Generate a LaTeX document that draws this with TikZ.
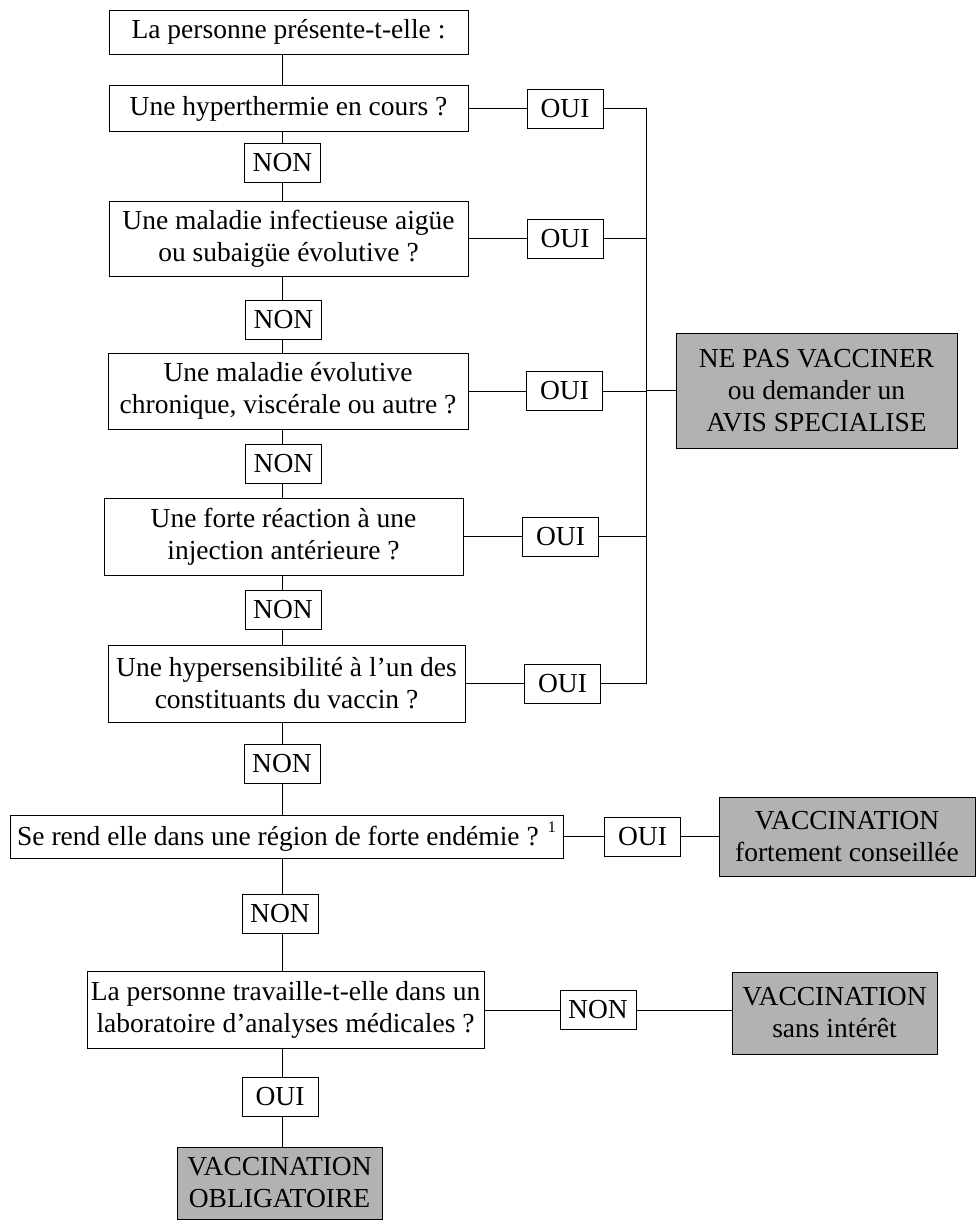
\documentclass[tikz,border=0pt]{standalone}
\usepackage{fontspec}
\setmainfont{Liberation Serif}
\begin{document}
\begin{tikzpicture}[x=1pt,y=-1pt,
  every node/.style={font=\fontsize{27.5}{32}\selectfont, inner sep=0pt, align=center},
  qbox/.style={draw, line width=0.9pt, fill=white},
  tag/.style={draw, line width=0.9pt, minimum width=76pt, minimum height=39pt},
  result/.style={draw, line width=0.9pt, fill=black!30},
  conn/.style={line width=0.9pt}]
\useasboundingbox (0,0) rectangle (977,1220);
\coordinate (sx) at (282,0);
\coordinate (rs) at (646,0);
% main questions
\node[qbox, minimum width=359pt, minimum height=44pt] (B0) at (288.5,32) {La personne présente-t-elle :};
\node[qbox, minimum width=359pt, minimum height=46pt] (B1) at (288.5,108.5) {Une hyperthermie en cours ?};
\node[tag] (N1) at (282.5,162.5) {NON};
\node[qbox, minimum width=359pt, minimum height=75pt] (B2) at (288.5,238.5) {Une maladie infectieuse aigüe\\ou subaigüe évolutive ?};
\node[tag] (N2) at (283.5,320) {NON};
\node[qbox, minimum width=360pt, minimum height=76pt] (B3) at (288,391) {Une maladie évolutive\\chronique, viscérale ou autre ?};
\node[tag] (N3) at (283.5,464) {NON};
\node[qbox, minimum width=359pt, minimum height=77pt] (B4) at (283.5,536.5) {Une forte réaction à une\\injection antérieure ?};
\node[tag] (N4) at (283,610) {NON};
\node[qbox, minimum width=357pt, minimum height=77pt] (B5) at (286.5,683.5) {Une hypersensibilité à l’un des\\constituants du vaccin ?};
\node[tag] (N5) at (282,763.5) {NON};
\node[qbox, minimum width=553pt, minimum height=43pt] (B6) at (286.5,836.5) {Se rend elle dans une région de forte endémie ? \raisebox{1.0ex}{\fontsize{16}{16}\selectfont 1}};
\node[tag] (N6) at (280,913.5) {NON};
\node[qbox, minimum width=397pt, minimum height=77pt] (B7) at (285.5,1010) {La personne travaille-t-elle dans un\\laboratoire d’analyses médicales ?};
\node[tag] (O7) at (280,1097) {OUI};
\node[result, minimum width=205pt, minimum height=72pt] (VOB) at (279.5,1183) {VACCINATION\\OBLIGATOIRE};
% OUI branches
\node[tag] (O1) at (565,108.5) {OUI};
\node[tag] (O2) at (565,238.5) {OUI};
\node[tag] (O3) at (564.5,391) {OUI};
\node[tag] (O4) at (560.5,536.5) {OUI};
\node[tag] (O5) at (562.5,683.5) {OUI};
\node[result, minimum width=281pt, minimum height=115pt] (NPV) at (816.5,390.5) {NE PAS VACCINER\\ou demander un\\AVIS SPECIALISE};
\node[tag] (O6) at (642.5,836.5) {OUI};
\node[result, minimum width=256pt, minimum height=79pt] (VFC) at (847,836.5) {VACCINATION\\fortement conseillée};
\node[tag] (N7) at (598,1010) {NON};
\node[result, minimum width=205pt, minimum height=82pt] (VSI) at (834.5,1013) {VACCINATION\\sans intérêt};
% spine
\draw[conn] (B0.south -| sx) -- (B1.north -| sx);
\draw[conn] (B1.south -| sx) -- (N1.north -| sx);
\draw[conn] (N1.south -| sx) -- (B2.north -| sx);
\draw[conn] (B2.south -| sx) -- (N2.north -| sx);
\draw[conn] (N2.south -| sx) -- (B3.north -| sx);
\draw[conn] (B3.south -| sx) -- (N3.north -| sx);
\draw[conn] (N3.south -| sx) -- (B4.north -| sx);
\draw[conn] (B4.south -| sx) -- (N4.north -| sx);
\draw[conn] (N4.south -| sx) -- (B5.north -| sx);
\draw[conn] (B5.south -| sx) -- (N5.north -| sx);
\draw[conn] (N5.south -| sx) -- (B6.north -| sx);
\draw[conn] (B6.south -| sx) -- (N6.north -| sx);
\draw[conn] (N6.south -| sx) -- (B7.north -| sx);
\draw[conn] (B7.south -| sx) -- (O7.north -| sx);
\draw[conn] (O7.south -| sx) -- (VOB.north -| sx);
% OUI connectors
\draw[conn] (B1.east) -- (O1.west);
\draw[conn] (B2.east) -- (O2.west);
\draw[conn] (B3.east) -- (O3.west);
\draw[conn] (B4.east) -- (O4.west);
\draw[conn] (B5.east) -- (O5.west);
\draw[conn] (O1.east) -- (O1.east -| rs) -- (O5.east -| rs) -- (O5.east);
\draw[conn] (O2.east) -- (O2.east -| rs);
\draw[conn] (O3.east) -- (O3.east -| rs);
\draw[conn] (O4.east) -- (O4.east -| rs);
\draw[conn] (NPV.west -| rs) -- (NPV.west);
\draw[conn] (B6.east) -- (O6.west);
\draw[conn] (O6.east) -- (VFC.west);
\draw[conn] (B7.east) -- (N7.west);
\draw[conn] (N7.east) -- (N7.east -| VSI.west);
\end{tikzpicture}
\end{document}
